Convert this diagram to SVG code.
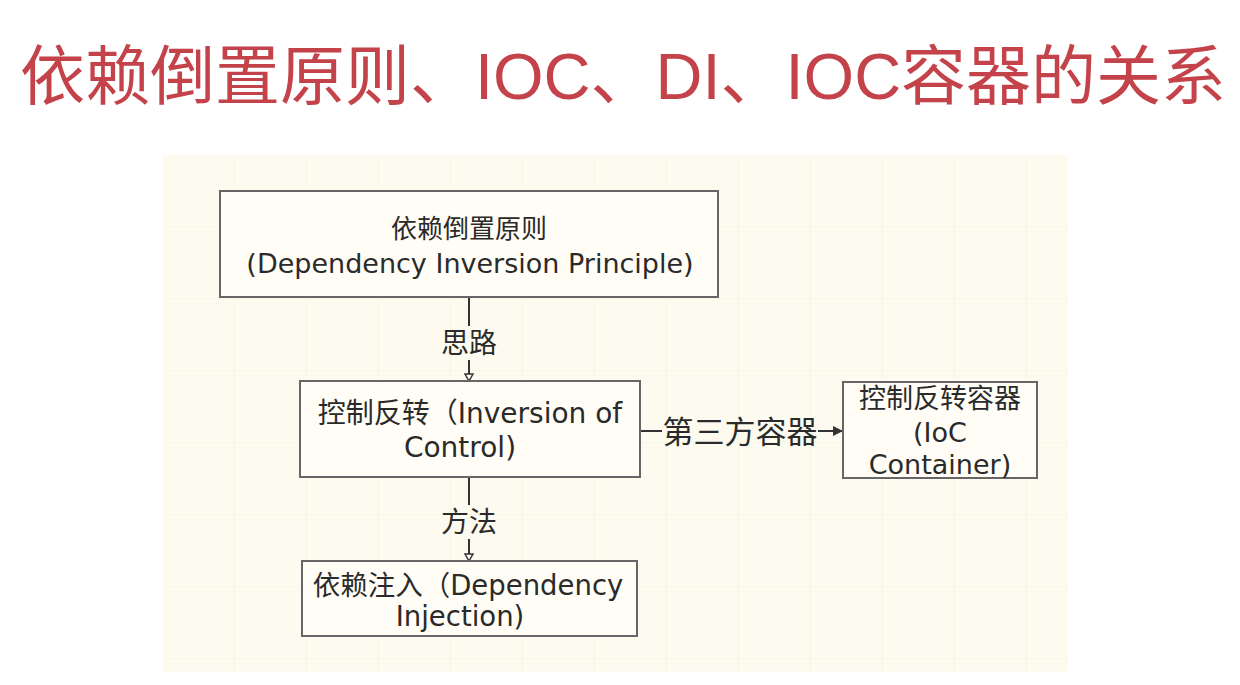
<svg xmlns="http://www.w3.org/2000/svg" width="1240" height="685" viewBox="0 0 1240 685">
<style>
.title{font-family:"Liberation Sans","Noto Sans CJK SC",sans-serif;font-size:65px;fill:#c4434a}
.box{fill:#fffdf6;stroke:#666;stroke-width:2}
.t{font-family:"DejaVu Sans","Noto Sans CJK SC",sans-serif;fill:#2a2a2a;text-anchor:middle}
.edge{stroke:#333;stroke-width:2;fill:none}
.lbl{font-family:"DejaVu Sans","Noto Sans CJK SC",sans-serif;fill:#2a2a2a;text-anchor:middle}
</style>
<defs>
<marker id="open" markerWidth="10" markerHeight="10" refX="8" refY="5" orient="auto" markerUnits="userSpaceOnUse">
<path d="M1,1 L8,5 L1,9 Z" fill="#fffdf6" stroke="#333" stroke-width="1.5"/>
</marker>
<marker id="solid" markerWidth="12" markerHeight="12" refX="10" refY="6" orient="auto" markerUnits="userSpaceOnUse">
<path d="M0,1 L10,6 L0,11 Z" fill="#333"/>
</marker>
<pattern id="grid" width="72" height="72" patternUnits="userSpaceOnUse" x="163" y="155">
<path d="M72,0 V72 M0,72 H72" stroke="#f1ede0" stroke-width="1" fill="none"/>
</pattern>
</defs>
<rect width="1240" height="685" fill="#ffffff"/>
<text class="title" x="20" y="99">依赖倒置原则、IOC、DI、IOC容器的关系</text>
<rect x="163" y="155" width="905" height="517" fill="#fdfbf0"/>
<rect x="163" y="155" width="905" height="517" fill="url(#grid)"/>
<g id="connectors">
<line class="edge" x1="469" y1="297" x2="469" y2="326"/>
<line class="edge" x1="469" y1="360" x2="469" y2="381" marker-end="url(#open)"/>
<line class="edge" x1="469" y1="477" x2="469" y2="505"/>
<line class="edge" x1="469" y1="539" x2="469" y2="561" marker-end="url(#open)"/>
<line class="edge" x1="640" y1="431" x2="662" y2="431"/>
<line class="edge" x1="818" y1="431" x2="843" y2="431" marker-end="url(#solid)"/>
<text class="lbl" x="469" y="353" font-size="28">思路</text>
<text class="lbl" x="469" y="532" font-size="28">方法</text>
<text class="lbl" x="740" y="443" font-size="31">第三方容器</text>
</g>
<g id="node-dip">
<rect class="box" x="220" y="191" width="498" height="106"/>
<text class="t" x="469" y="238" font-size="26">依赖倒置原则</text>
<text class="t" x="470" y="273" font-size="27">(Dependency Inversion Principle)</text>
</g>
<g id="node-ioc">
<rect class="box" x="300" y="381" width="340" height="96"/>
<text class="t" x="470" y="423" font-size="28">控制反转（Inversion of</text>
<text class="t" x="460" y="457" font-size="28">Control)</text>
</g>
<g id="node-container">
<rect class="box" x="843" y="382" width="194" height="96"/>
<text class="t" x="940" y="408" font-size="27">控制反转容器</text>
<text class="t" x="940" y="442" font-size="27">(IoC</text>
<text class="t" x="940" y="474" font-size="27">Container)</text>
</g>
<g id="node-di">
<rect class="box" x="302" y="561" width="335" height="75"/>
<text class="t" x="468" y="595" font-size="27.5">依赖注入（Dependency</text>
<text class="t" x="460" y="626" font-size="27.5">Injection)</text>
</g>
</svg>
